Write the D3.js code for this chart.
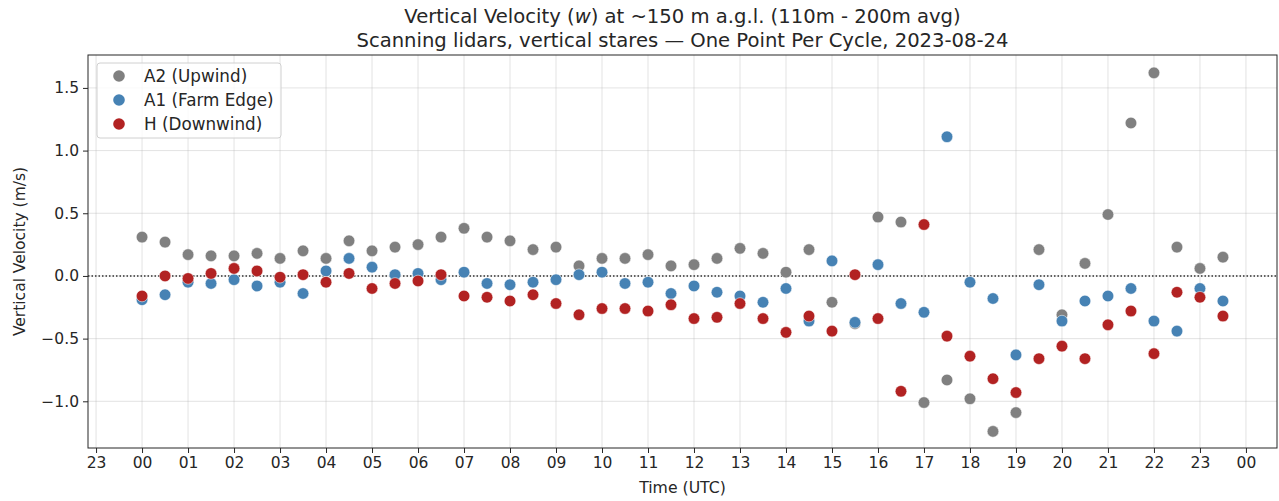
<!DOCTYPE html>
<html>

<head>
	<meta charset="utf-8">
	<script src="https://cdn.jsdelivr.net/npm/d3@7"></script>
	<style>
		body {
			margin: 0;
			background: #fff;
		}

		text {
			font-family: "DejaVu Sans", sans-serif;
			fill: #262626;
		}
	</style>
</head>

<body>
	<svg></svg>
	<script>
		// half-hourly cycle times (UTC)
		var times = ["00:00", "00:30", "01:00", "01:30", "02:00", "02:30", "03:00", "03:30",
			"04:00", "04:30", "05:00", "05:30", "06:00", "06:30", "07:00", "07:30",
			"08:00", "08:30", "09:00", "09:30", "10:00", "10:30", "11:00", "11:30",
			"12:00", "12:30", "13:00", "13:30", "14:00", "14:30", "15:00", "15:30",
			"16:00", "16:30", "17:00", "17:30", "18:00", "18:30", "19:00", "19:30",
			"20:00", "20:30", "21:00", "21:30", "22:00", "22:30", "23:00", "23:30"];

		var a2 = [0.31, 0.27, 0.17, 0.16, 0.16, 0.18, 0.14, 0.20, 0.14, 0.28, 0.20, 0.23,
			0.25, 0.31, 0.38, 0.31, 0.28, 0.21, 0.23, 0.08, 0.14, 0.14, 0.17, 0.08,
			0.09, 0.14, 0.22, 0.18, 0.03, 0.21, -0.21, -0.38, 0.47, 0.43, -1.01, -0.83,
			-0.98, -1.24, -1.09, 0.21, -0.31, 0.10, 0.49, 1.22, 1.62, 0.23, 0.06, 0.15];

		var a1 = [-0.19, -0.15, -0.05, -0.06, -0.03, -0.08, -0.05, -0.14, 0.04, 0.14, 0.07, 0.01,
			0.02, -0.03, 0.03, -0.06, -0.07, -0.05, -0.03, 0.01, 0.03, -0.06, -0.05, -0.14,
			-0.08, -0.13, -0.16, -0.21, -0.10, -0.36, 0.12, -0.37, 0.09, -0.22, -0.29, 1.11,
			-0.05, -0.18, -0.63, -0.07, -0.36, -0.20, -0.16, -0.10, -0.36, -0.44, -0.10, -0.20];

		var h = [-0.16, 0.00, -0.02, 0.02, 0.06, 0.04, -0.01, 0.01, -0.05, 0.02, -0.10, -0.06,
			-0.04, 0.01, -0.16, -0.17, -0.20, -0.15, -0.22, -0.31, -0.26, -0.26, -0.28, -0.23,
			-0.34, -0.33, -0.22, -0.34, -0.45, -0.32, -0.44, 0.01, -0.34, -0.92, 0.41, -0.48,
			-0.64, -0.82, -0.93, -0.66, -0.56, -0.66, -0.39, -0.28, -0.62, -0.13, -0.17, -0.32];

		var seriesNames = ["A2 (Upwind)", "A1 (Farm Edge)", "H (Downwind)"];
		var seriesColors = ["#808080", "#4682b4", "#b22222"];
		var seriesValues = [a2, a1, h];

		var xTickHours = [-1, 0, 1, 2, 3, 4, 5, 6, 7, 8, 9, 10, 11, 12, 13, 14, 15, 16, 17, 18, 19, 20, 21, 22, 23, 24];
		var yTicks = [-1.0, -0.5, 0.0, 0.5, 1.0, 1.5];

		var W = 1279, H = 501;
		var margins = { left: 88, right: 2, top: 55, bottom: 53 };
		var width = W - margins.left - margins.right;
		var height = H - margins.top - margins.bottom;

		var svg = d3.select("svg")
			.attr("width", W)
			.attr("height", H);

		var hours = times.map(t => +t.slice(0, 2) + (+t.slice(3)) / 60);

		var x = d3.scaleLinear()
			.domain([-1.175, 24.675])
			.range([0, width]);
		var y = d3.scaleLinear()
			.domain([-1.3725, 1.7625])
			.range([height, 0]);

		var g = svg.append("g")
			.attr("transform", "translate(" + margins.left + "," + margins.top + ")");

		// grid
		g.append("g")
			.selectAll("line")
			.data(xTickHours)
			.enter()
			.append("line")
			.attr("x1", d => x(d)).attr("x2", d => x(d))
			.attr("y1", 0).attr("y2", height)
			.attr("stroke", "#b0b0b0")
			.attr("stroke-opacity", 0.35)
			.attr("stroke-width", 1);
		g.append("g")
			.selectAll("line")
			.data(yTicks)
			.enter()
			.append("line")
			.attr("y1", d => y(d)).attr("y2", d => y(d))
			.attr("x1", 0).attr("x2", width)
			.attr("stroke", "#b0b0b0")
			.attr("stroke-opacity", 0.35)
			.attr("stroke-width", 1);

		// zero line
		g.append("line")
			.attr("x1", 0).attr("x2", width)
			.attr("y1", y(0)).attr("y2", y(0))
			.attr("stroke", "#333")
			.attr("stroke-width", 1.5)
			.attr("stroke-dasharray", "1.5,2");

		// points
		seriesValues.forEach((vals, si) => {
			g.append("g")
				.selectAll("circle")
				.data(vals)
				.enter()
				.append("circle")
				.attr("cx", (d, i) => x(hours[i]))
				.attr("cy", d => y(d))
				.attr("r", 5.8)
				.attr("fill", seriesColors[si])
				.attr("stroke", "#fff")
				.attr("stroke-width", 0.5);
		});

		// axes
		var fmtHour = d => d3.format("02d")(((d % 24) + 24) % 24);
		var xAxis = g.append("g")
			.attr("transform", "translate(0," + height + ")")
			.call(d3.axisBottom(x).tickValues(xTickHours).tickFormat(fmtHour).tickSize(5).tickPadding(4));
		var yAxis = g.append("g")
			.call(d3.axisLeft(y).tickValues(yTicks).tickFormat(d3.format(".1f")).tickSize(5).tickPadding(4));
		[xAxis, yAxis].forEach(a => {
			a.select(".domain").remove();
			a.selectAll("text").attr("font-size", 15.5).attr("font-family", "DejaVu Sans").attr("fill", "#262626");
			a.selectAll("line").attr("stroke", "#262626");
		});

		// frame
		g.append("rect")
			.attr("x", 0).attr("y", 0)
			.attr("width", width).attr("height", height)
			.attr("fill", "none")
			.attr("stroke", "#262626")
			.attr("stroke-width", 1);

		// labels
		svg.append("text")
			.attr("x", margins.left + width / 2)
			.attr("y", 493)
			.attr("text-anchor", "middle")
			.attr("font-size", 15.7)
			.text("Time (UTC)");
		svg.append("text")
			.attr("transform", "translate(25," + (margins.top + height / 2) + ") rotate(-90)")
			.attr("text-anchor", "middle")
			.attr("font-size", 15.5)
			.text("Vertical Velocity (m/s)");

		var t1 = svg.append("text")
			.attr("x", margins.left + width / 2)
			.attr("y", 23)
			.attr("text-anchor", "middle")
			.attr("font-size", 19.6);
		t1.append("tspan").text("Vertical Velocity (");
		t1.append("tspan").attr("font-style", "italic").text("w");
		t1.append("tspan").text(") at ~150 m a.g.l. (110m - 200m avg)");
		svg.append("text")
			.attr("x", margins.left + width / 2)
			.attr("y", 46.5)
			.attr("text-anchor", "middle")
			.attr("font-size", 19.6)
			.text("Scanning lidars, vertical stares \u2014 One Point Per Cycle, 2023-08-24");

		// legend
		var leg = g.append("g").attr("transform", "translate(9,8)");
		leg.append("rect")
			.attr("width", 184).attr("height", 75)
			.attr("rx", 3)
			.attr("fill", "#fff")
			.attr("fill-opacity", 0.8)
			.attr("stroke", "#d0d0d0");
		seriesNames.forEach((name, i) => {
			var row = leg.append("g").attr("transform", "translate(0," + (13 + i * 24) + ")");
			row.append("circle")
				.attr("cx", 22).attr("cy", 0).attr("r", 5.8)
				.attr("fill", seriesColors[i]);
			row.append("text")
				.attr("x", 47).attr("y", 0)
				.attr("dy", "0.35em")
				.attr("font-size", 16.8)
				.text(name);
		});
	</script>
</body>

</html>
